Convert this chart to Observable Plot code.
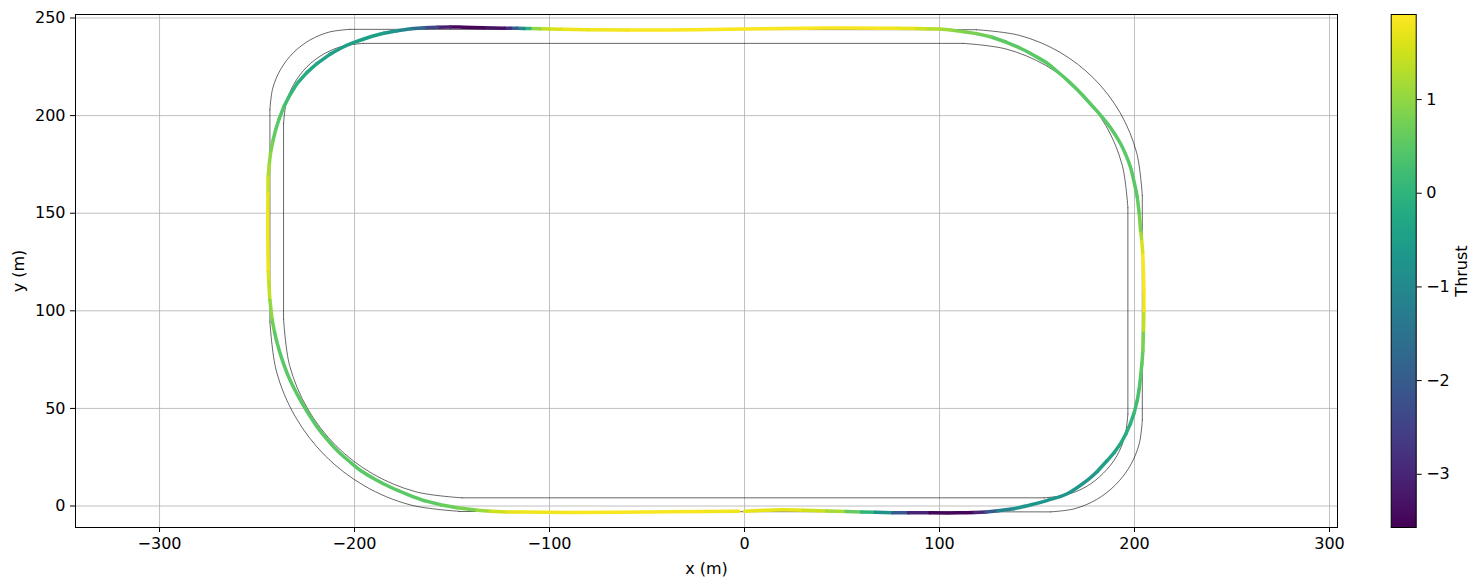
<!DOCTYPE html>
<html>
<head>
<meta charset="utf-8">
<script src="https://cdn.jsdelivr.net/npm/d3@7"></script>
<script src="https://cdn.jsdelivr.net/npm/@observablehq/plot@0.6"></script>
<style>
  html, body { margin: 0; padding: 0; background: white; }
  #wrap { position: relative; width: 1482px; height: 588px; overflow: hidden; background: white; }
  #main, #cbar { position: absolute; top: 0; }
  #main { left: 0; }
  #cbar { left: 1380px; }
</style>
</head>
<body>
<div id="wrap"><div id="main"></div><div id="cbar"></div></div>
<script>
// ---- Data ----
const xTicks = [-300, -200, -100, 0, 100, 200, 300];
const yTicks = [0, 50, 100, 150, 200, 250];
const cbTicks = [-3, -2, -1, 0, 1];
const thrustMin = -3.568;
const thrustMax = 1.908;

// Trajectory (counter-clockwise, starting at bottom centre): x, y, thrust
const trajX = [0, 15, 30, 42, 52, 60, 67, 76, 84, 95, 110, 118, 124, 130, 138, 146.5, 155, 165.5, 175.7, 181, 186, 189.7, 192.8, 195.6, 197.9, 199.9, 201.4, 202.4, 203.1, 203.8, 204.3, 204.6, 204.8, 204.8, 204.6, 204.2, 203.6, 203.1, 202.4, 201.4, 199.8, 197.9, 195.5, 192.8, 189.6, 186, 181, 175.7, 170.7, 165.5, 160.4, 155.2, 148.5, 141.5, 134, 126.2, 119, 112.5, 106, 100, 93, 87, 78, 70, 42, 8, -26, -60, -80, -94, -100, -105, -110, -113, -116.6, -120, -123, -133.7, -144, -150.8, -157.4, -164.4, -171, -178.1, -185, -191.8, -198.5, -205.5, -212.5, -219.1, -224.5, -229.4, -233.2, -236.3, -238.6, -240.5, -242, -243.1, -243.8, -244.3, -244.4, -244.5, -244.5, -244.4, -244.2, -244.0, -243.4, -242.2, -241, -239.6, -237.3, -234.5, -231.3, -227.7, -223.6, -219.1, -214.2, -208.9, -203, -196.9, -189.3, -181.5, -173, -164.5, -156, -147.3, -137, -130.3, -122, -115, -89.2, -50, -20, -3];
const trajY = [-2.7, -2.0, -2.1, -2.5, -2.8, -3.0, -3.2, -3.4, -3.5, -3.5, -3.5, -3.3, -3.0, -2.4, -1.4, 0.5, 2.8, 6.3, 13.1, 17.8, 23.3, 27.5, 31.9, 37, 42.2, 48, 54.1, 60, 66.1, 73, 79.7, 90, 100, 110, 120, 130, 137, 141.3, 150, 158.4, 166, 173.7, 180, 185.7, 191, 196, 202, 207.9, 213.2, 218.2, 222.6, 226.8, 230.8, 234.5, 237.7, 240.4, 242, 243.0, 243.8, 244.4, 244.5, 244.6, 244.7, 244.8, 244.9, 244.5, 244.0, 243.8, 244.0, 244.3, 244.4, 244.5, 244.6, 244.6, 244.7, 244.8, 244.8, 245.0, 245.3, 245.4, 245.3, 245.0, 244.5, 243.5, 242.2, 240.4, 238.1, 235.3, 231.5, 226.8, 222, 216.5, 210.5, 204.5, 198.5, 192.6, 186.5, 180.6, 174.5, 168.6, 160, 150, 140, 130, 120, 115, 105.4, 95.1, 89, 83.2, 75.5, 67.8, 60.8, 54.1, 47.2, 40.4, 34.3, 28.5, 23.2, 18.2, 13.6, 9.6, 6, 2.8, 0.7, -0.9, -2.2, -2.7, -3.0, -3.1, -3.3, -3.0, -2.8, -2.7];
const trajThrust = [1.7, 1.7, 1.5, 1.2, 0.6, 0.0, -0.8, -2.0, -3.0, -3.5, -3.5, -3.0, -2.0, -1.1, -0.7, -0.7, -0.7, -0.7, -0.7, -0.5, -0.4, -0.3, -0.2, -0.1, 0.0, 0.2, 0.3, 0.4, 0.5, 0.6, 0.8, 1.4, 1.8, 1.85, 1.85, 1.6, 1.2, 0.8, 0.6, 0.5, 0.5, 0.5, 0.5, 0.5, 0.5, 0.5, 0.5, 0.5, 0.5, 0.5, 0.5, 0.5, 0.5, 0.5, 0.55, 0.7, 0.8, 0.9, 1.1, 1.3, 1.5, 1.7, 1.8, 1.85, 1.85, 1.85, 1.85, 1.8, 1.75, 1.6, 1.4, 1.0, 0.0, -1.0, -2.0, -2.8, -3.3, -3.5, -3.5, -3.1, -2.4, -1.7, -1.1, -0.7, -0.5, -0.5, -0.5, -0.5, -0.4, -0.3, -0.2, 0.0, 0.2, 0.4, 0.5, 0.6, 0.8, 1.0, 1.2, 1.5, 1.7, 1.8, 1.8, 1.75, 1.6, 1.4, 1.0, 0.7, 0.5, 0.5, 0.5, 0.5, 0.5, 0.5, 0.5, 0.5, 0.5, 0.5, 0.5, 0.5, 0.5, 0.5, 0.5, 0.55, 0.65, 0.8, 1.1, 1.5, 1.7, 1.8, 1.85, 1.85, 1.8, 1.8];

// Track outer boundary, split into straights and corners
const outerPiece = ["b","b", "br","br","br","br","br","br","br", "r","r", "tr","tr","tr","tr","tr","tr","tr", "t","t", "tl","tl","tl","tl","tl","tl","tl", "l","l", "bl","bl","bl","bl","bl","bl","bl"];
const outerX = [-146.4, 157, 157, 169.2, 180.5, 190.2, 197.7, 202.4, 204, 204, 204, 204, 201.1, 192.6, 179.1, 161.5, 141.0, 119, 119, -202.4, -202.4, -213.0, -222.9, -231.4, -237.9, -242.0, -243.4, -243.4, -243.4, -243.4, -240.1, -230.4, -215.0, -194.9, -171.5, -146.4];
const outerY = [-2.8, -3, -3, -1.4, 3.3, 10.8, 20.5, 31.8, 44, 44, 159, 159, 181.0, 201.5, 219.1, 232.6, 241.1, 244, 244, 244.2, 244.2, 242.8, 238.7, 232.2, 223.7, 213.8, 203.2, 203.2, 94.3, 94.3, 69.2, 45.8, 25.7, 10.3, 0.6, -2.7];

// Track inner boundary, split into straights and corners
const innerPiece = ["b","b", "br","br","br","br","br","br","br", "r","r", "tr","tr","tr","tr","tr","tr","tr", "t","t", "tl","tl","tl","tl","tl","tl","tl", "l","l", "bl","bl","bl","bl","bl","bl","bl"];
const innerX = [-144.9, 153.7, 153.7, 164.8, 175.2, 184.0, 190.9, 195.1, 196.6, 196.6, 196.6, 196.6, 193.7, 185.3, 171.9, 154.5, 134.2, 112.4, 112.4, -195.4, -195.4, -206.0, -215.9, -224.4, -230.9, -235.0, -236.4, -236.4, -236.4, -236.4, -233.3, -224.1, -209.6, -190.7, -168.6, -144.9];
const innerY = [4.2, 4.2, 4.2, 5.7, 9.9, 16.8, 25.6, 36.0, 47.1, 47.1, 152.8, 152.8, 174.6, 194.9, 212.3, 225.7, 234.1, 237.0, 237.0, 237.0, 237.0, 235.6, 231.5, 225.0, 216.5, 206.6, 196, 196, 95.7, 95.7, 72.0, 49.9, 31.0, 16.5, 7.3, 4.2];

// ---- Build tables ----
const traj = trajX.map((x, i) => ({x, y: trajY[i], t: trajThrust[i]}));
const outer = outerX.map((x, i) => ({x, y: outerY[i], p: outerPiece[i]}));
const inner = innerX.map((x, i) => ({x, y: innerY[i], p: innerPiece[i]}));

const fmt = d => (d < 0 ? "\u2212" + Math.abs(d) : String(d));
const font = {fontFamily: "DejaVu Sans", fontSize: "16px", background: "white", overflow: "visible", color: "black"};
const colorOpts = {type: "linear", scheme: "viridis", domain: [thrustMin, thrustMax]};

const main = Plot.plot({
  width: 1482,
  height: 588,
  marginLeft: 75,
  marginRight: 145,
  marginTop: 14,
  marginBottom: 61,
  style: font,
  x: {domain: [-343.1, 304.1]},
  y: {domain: [-11.0, 251.8]},
  color: colorOpts,
  marks: [
    Plot.gridX(xTicks, {stroke: "#b0b0b0", strokeOpacity: 1, strokeWidth: 0.8}),
    Plot.gridY(yTicks, {stroke: "#b0b0b0", strokeOpacity: 1, strokeWidth: 0.8}),
    Plot.line(outer, {x: "x", y: "y", z: "p", stroke: "black", strokeWidth: 0.6, curve: "catmull-rom"}),
    Plot.line(inner, {x: "x", y: "y", z: "p", stroke: "black", strokeWidth: 0.6, curve: "catmull-rom"}),
    Plot.line(traj, {x: "x", y: "y", z: null, stroke: "t", strokeWidth: 3.5, curve: "catmull-rom"}),
    Plot.frame({stroke: "black", strokeWidth: 1}),
    Plot.axisX(xTicks, {tickFormat: fmt, tickSize: 5, tickPadding: 5, label: null}),
    Plot.axisY(yTicks, {tickFormat: fmt, tickSize: 5, tickPadding: 5, label: null}),
    Plot.text(["x (m)"], {frameAnchor: "bottom", dy: 41, lineAnchor: "middle", textAnchor: "middle", fontSize: 16}),
    Plot.text(["y (m)"], {frameAnchor: "left", dx: -57, rotate: -90, lineAnchor: "middle", textAnchor: "middle", fontSize: 16})
  ]
});
document.getElementById("main").appendChild(main);

const cbar = Plot.plot({
  width: 102,
  height: 588,
  marginLeft: 10.7,
  marginRight: 66.3,
  marginTop: 14,
  marginBottom: 61,
  style: font,
  x: {domain: [0, 1], axis: null},
  y: {domain: [thrustMin, thrustMax], axis: null},
  color: colorOpts,
  marks: [
    Plot.raster({fill: (x, y) => y, x1: 0, x2: 1, y1: thrustMin, y2: thrustMax}),
    Plot.frame({stroke: "black", strokeWidth: 1}),
    Plot.axisY(cbTicks, {anchor: "right", tickFormat: fmt, tickSize: 5, tickPadding: 5, label: null}),
    Plot.text(["Thrust"], {frameAnchor: "right", dx: 46, rotate: -90, lineAnchor: "middle", textAnchor: "middle", fontSize: 16})
  ]
});
document.getElementById("cbar").appendChild(cbar);
</script>
</body>
</html>
